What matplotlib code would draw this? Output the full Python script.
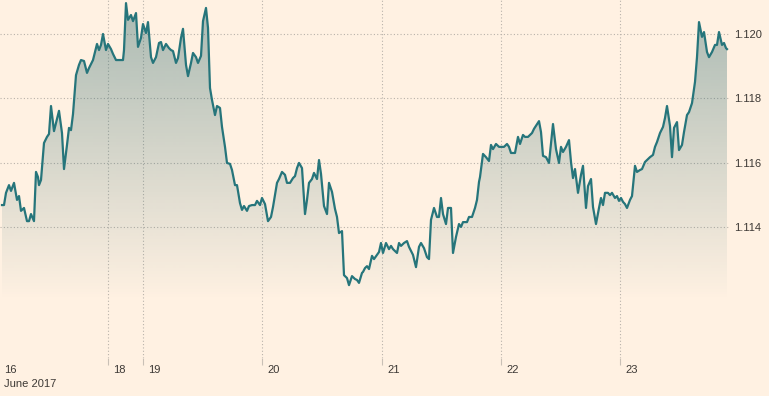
import numpy as np
import matplotlib
matplotlib.use("Agg")
import matplotlib.pyplot as plt
import matplotlib.transforms as mtransforms

# time axis: trading-time index in 12-minute bars from chart start
t_bars = [2, 4, 6, 9, 11, 14, 17, 19, 21, 24, 27, 29, 31, 34, 36, 38, 39, 41, 44, 47,
          49, 51, 54, 57, 59, 62, 64, 67, 69, 71, 73, 76, 79, 81, 84, 87, 89, 93, 97, 99,
          101, 103, 106, 108, 111, 113, 116, 120, 123, 124, 126, 128, 131, 133, 136, 138, 141, 143, 146, 148,
          151, 153, 156, 159, 161, 163, 166, 169, 171, 173, 176, 178, 181, 183, 186, 188, 191, 193, 196, 198,
          201, 203, 206, 208, 210, 212, 215, 217, 220, 222, 225, 227, 230, 232, 235, 237, 240, 242, 244, 247,
          249, 252, 255, 257, 260, 262, 265, 268, 271, 273, 277, 279, 282, 285, 287, 290, 293, 295, 297, 299,
          302, 305, 307, 309, 312, 314, 317, 319, 321, 324, 327, 329, 332, 335, 337, 339, 342, 344, 347, 349,
          352, 355, 357, 359, 362, 363, 365, 367, 369, 372, 374, 377, 379, 381, 383, 386, 389, 391, 393, 397,
          399, 401, 404, 407, 409, 413, 416, 419, 421, 424, 427, 429, 431, 434, 437, 439, 441, 443, 446, 448,
          451, 453, 456, 459, 461, 463, 467, 469, 472, 475, 477, 479, 480, 483, 486, 489, 491, 493, 496, 499,
          501, 504, 507, 509, 511, 515, 518, 520, 523, 525, 528, 532, 534, 539, 541, 543, 546, 549, 551, 553,
          556, 559, 561, 563, 566, 569, 571, 573, 575, 578, 581, 583, 586, 588, 591, 593, 596, 599, 601, 603,
          605, 608, 610, 612, 615, 617, 619, 621, 623, 625, 627, 630, 632, 635, 637, 640, 642, 645, 647, 650,
          653, 655, 657, 660, 663, 665, 667, 670, 672, 674, 677, 679, 682, 684, 687, 689, 692, 695, 697, 699,
          702, 704, 707, 709, 712, 715, 717, 719, 722, 724, 726, 727]

eurusd = [1.11468, 1.11468, 1.11506, 1.11530, 1.11512, 1.11537, 1.11484, 1.11496, 1.11450, 1.11459,
          1.11418, 1.11418, 1.11440, 1.11418, 1.11571, 1.11555, 1.11530, 1.11546, 1.11661, 1.11680,
          1.11689, 1.11776, 1.11698, 1.11736, 1.11761, 1.11692, 1.11580, 1.11655, 1.11708, 1.11701,
          1.11751, 1.11872, 1.11904, 1.11919, 1.11916, 1.11879, 1.11894, 1.11919, 1.11969, 1.11950,
          1.11966, 1.12000, 1.11950, 1.11969, 1.11953, 1.11938, 1.11919, 1.11919, 1.11919, 1.11950,
          1.12096, 1.12044, 1.12059, 1.12040, 1.12065, 1.11960, 1.11988, 1.12031, 1.12003, 1.12037,
          1.11928, 1.11910, 1.11928, 1.11972, 1.11975, 1.11950, 1.11969, 1.11956, 1.11950, 1.11947,
          1.11910, 1.11925, 1.11988, 1.12016, 1.11904, 1.11869, 1.11910, 1.11941, 1.11928, 1.11910,
          1.11932, 1.12040, 1.12081, 1.12019, 1.11832, 1.11795, 1.11748, 1.11776, 1.11770, 1.11711,
          1.11649, 1.11599, 1.11596, 1.11577, 1.11530, 1.11530, 1.11474, 1.11453, 1.11465, 1.11450,
          1.11465, 1.11468, 1.11468, 1.11481, 1.11468, 1.11490, 1.11471, 1.11418, 1.11431, 1.11462,
          1.11537, 1.11549, 1.11571, 1.11562, 1.11537, 1.11537, 1.11552, 1.11558, 1.11583, 1.11599,
          1.11583, 1.11440, 1.11484, 1.11537, 1.11549, 1.11568, 1.11549, 1.11608, 1.11565, 1.11465,
          1.11440, 1.11537, 1.11509, 1.11456, 1.11431, 1.11381, 1.11387, 1.11250, 1.11241, 1.11219,
          1.11247, 1.11238, 1.11235, 1.11226, 1.11257, 1.11260, 1.11272, 1.11278, 1.11269, 1.11310,
          1.11300, 1.11313, 1.11322, 1.11350, 1.11319, 1.11350, 1.11331, 1.11341, 1.11331, 1.11319,
          1.11350, 1.11341, 1.11350, 1.11356, 1.11338, 1.11313, 1.11275, 1.11338, 1.11350, 1.11334,
          1.11306, 1.11300, 1.11422, 1.11459, 1.11431, 1.11431, 1.11490, 1.11440, 1.11409, 1.11459,
          1.11459, 1.11319, 1.11369, 1.11409, 1.11400, 1.11415, 1.11415, 1.11431, 1.11431, 1.11459,
          1.11484, 1.11540, 1.11555, 1.11627, 1.11617, 1.11605, 1.11655, 1.11642, 1.11658, 1.11649,
          1.11649, 1.11649, 1.11658, 1.11649, 1.11630, 1.11630, 1.11680, 1.11658, 1.11686, 1.11680,
          1.11680, 1.11692, 1.11705, 1.11729, 1.11695, 1.11621, 1.11617, 1.11599, 1.11661, 1.11720,
          1.11642, 1.11599, 1.11649, 1.11633, 1.11649, 1.11670, 1.11602, 1.11552, 1.11580, 1.11506,
          1.11562, 1.11590, 1.11459, 1.11527, 1.11549, 1.11462, 1.11409, 1.11459, 1.11490, 1.11468,
          1.11506, 1.11506, 1.11499, 1.11506, 1.11490, 1.11496, 1.11481, 1.11490, 1.11478, 1.11471,
          1.11459, 1.11484, 1.11496, 1.11590, 1.11571, 1.11577, 1.11580, 1.11602, 1.11608, 1.11617,
          1.11624, 1.11649, 1.11664, 1.11692, 1.11711, 1.11739, 1.11776, 1.11714, 1.11617, 1.11708,
          1.11726, 1.11639, 1.11655, 1.11695, 1.11748, 1.11757, 1.11785, 1.11851, 1.11928, 1.12037,
          1.11991, 1.12006, 1.11944, 1.11928, 1.11944, 1.11966, 1.11966, 1.12006, 1.11966, 1.11972,
          1.11956, 1.11953]

day_tick_pos = [108, 143, 262, 382, 501, 620]
day_tick_labels = ["18", "19", "20", "21", "22", "23"]
first_day_label = "16"
month_label = "June 2017"
y_ticks = [1.114, 1.116, 1.118, 1.120]
y_tick_labels = ["1.114", "1.116", "1.118", "1.120"]

BG = "#fff1e2"
LINE = "#26757b"
FILLC = (0.16, 0.40, 0.42)
TXT = "#3d3935"
GRID = "#b9b2aa"

W, H = 769, 396
fig = plt.figure(figsize=(W / 100, H / 100), dpi=100, facecolor=BG)
ax = fig.add_axes([0, (H - 358) / H, 729 / W, 358 / H])
ax.set_facecolor(BG)

ymin, ymax = 1.109924, 1.121057
ax.set_xlim(0, 729)
ax.set_ylim(ymin, ymax)

# gradient fill under the line: strongest at top, fading out ~85% down the plot
ngrad = 358
frac = np.linspace(0, 1, ngrad)
alpha = np.clip(0.40 * (1 - frac / 0.84), 0, None) ** 1.0
alpha = alpha[:, None]
img = np.zeros((ngrad, 1, 4))
img[..., 0] = FILLC[0]
img[..., 1] = FILLC[1]
img[..., 2] = FILLC[2]
img[..., 3] = alpha
poly = ax.fill_between(t_bars, eurusd, ymin, facecolor="none", edgecolor="none")
im = ax.imshow(img, extent=[0, 729, ymin, ymax], origin="upper", aspect="auto", zorder=1,
               interpolation="bilinear")
path = poly.get_paths()[0]
im.set_clip_path(path, transform=ax.transData)

ax.plot(t_bars, eurusd, color=LINE, lw=1.6, zorder=3, solid_joinstyle="round")

# grid
for yv in y_ticks:
    ax.axhline(yv, color=GRID, lw=0.8, ls=(0, (1, 2)), zorder=0.5)
for xv in day_tick_pos:
    ax.axvline(xv, color=GRID, lw=0.8, ls=(0, (1, 2)), zorder=0.5)

for s in ax.spines.values():
    s.set_visible(False)

ax.set_xticks(day_tick_pos)
ax.set_xticklabels([])
ax.tick_params(axis="x", direction="out", length=5, width=0.8, color="#c9c0b6")

ax.yaxis.tick_right()
ax.set_yticks(y_ticks)
ax.set_yticklabels(y_tick_labels)
ax.tick_params(axis="y", length=0, pad=4, labelsize=8, labelcolor=TXT)
for lab in ax.get_yticklabels():
    lab.set_fontfamily("Liberation Sans")

btrans = mtransforms.blended_transform_factory(ax.transData, fig.transFigure)
off = mtransforms.offset_copy(btrans, fig=fig, x=5, y=0, units="dots")
for xv, lab in zip(day_tick_pos, day_tick_labels):
    ax.text(xv, (H - 370) / H, lab, transform=off, ha="left", va="center",
            fontsize=8, color=TXT, family="Liberation Sans")
fig.text(4 / W, (H - 370) / H, first_day_label, ha="left", va="center",
         fontsize=8, color=TXT, family="Liberation Sans")
fig.text(4 / W, (H - 384) / H, month_label, ha="left", va="center",
         fontsize=8, color=TXT, family="Liberation Sans")

fig.savefig("out.png", dpi=100, facecolor=BG)
